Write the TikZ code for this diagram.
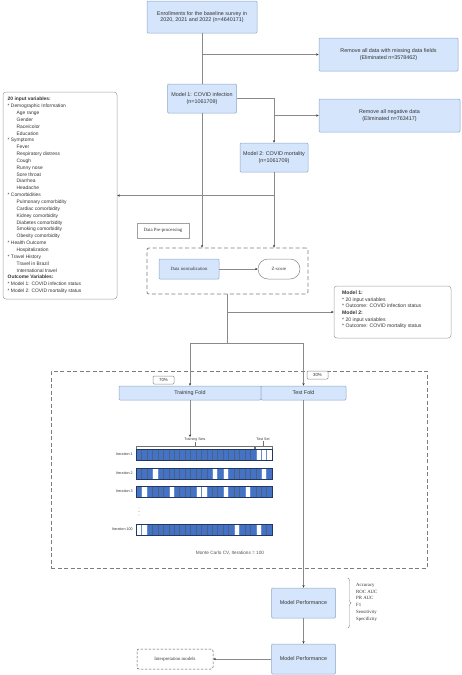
\documentclass[tikz,border=0pt]{standalone}
\usepackage{fontspec}
\setmainfont{Liberation Sans}
\newfontfamily\seriffont{Liberation Serif}
\usetikzlibrary{arrows.meta,decorations.pathreplacing,calc}

\definecolor{boxfill}{HTML}{D5E5FB}
\definecolor{boxdraw}{HTML}{8CA6C8}
\definecolor{linec}{HTML}{8A8A8A}
\definecolor{barblue}{HTML}{4472C4}
\definecolor{bardark}{HTML}{203864}
\definecolor{txt}{HTML}{333333}

\tikzset{
  bluebox/.style={draw=boxdraw, fill=boxfill, rounded corners=1pt, line width=0.5pt, align=center,
    inner sep=0pt, font=\fontsize{5.4}{6.6}\selectfont, text=txt},
  plainbox/.style={draw=linec, fill=white, line width=0.5pt, inner sep=0pt},
  conn/.style={draw=linec, line width=0.6pt},
  arr/.style={conn, -{Stealth[length=2.6pt, width=2.2pt, color=black!80]}},
  dashbox/.style={draw=linec!90!black, line width=0.7pt, dash pattern=on 4pt off 2.5pt, inner sep=0pt},
  smalltxt/.style={font=\fontsize{4.9}{6.85}\selectfont, text=txt},
  sertxt/.style={font=\seriffont\fontsize{4.8}{6}\selectfont, text=txt},
}

\newcommand{\mcrow}[3]{%
  \foreach \i in {0,...,24} {
    \draw[fill=barblue, draw=bardark!80, line width=0.25pt] ({136+\i*5.44},#1) rectangle ++(5.44,11);
  }
  \foreach \i in {#3} {
    \draw[fill=white, draw=barblue!80, line width=0.25pt] ({136+\i*5.44},#1) rectangle ++(5.44,11);
  }
  \draw[bardark, line width=0.5pt] (136,#1) rectangle (272,#1+11);
  \node[anchor=east, inner sep=0pt, font=\fontsize{3.7}{4}\selectfont, text=txt] at (133,#1+5.5) {#2};
}

\begin{document}
\begin{tikzpicture}[x=1pt, y=-1pt]
\useasboundingbox (0,0) rectangle (462,675);

% top flow
\node[bluebox, minimum width=110pt, minimum height=32pt] (enr) at (202,17) {Enrollments for the baseline survey in\\2020, 2021 and 2022 (n=4640171)};
\node[bluebox, minimum width=139pt, minimum height=33pt] (rmmiss) at (388.5,54.5) {Remove all data with missing data fields\\(Eliminated n=3578462)};
\node[bluebox, minimum width=69pt, minimum height=29pt] (m1) at (202,98.5) {Model 1: COVID infection\\(n=1061709)};
\node[bluebox, minimum width=141pt, minimum height=33pt] (rmneg) at (389.5,115.5) {Remove all negative data\\(Eliminated n=763417)};
\node[bluebox, minimum width=68pt, minimum height=29pt] (m2) at (274,157.5) {Model 2: COVID mortality\\(n=1061709)};

% left variables box
\node[draw=linec!80, fill=white, rounded corners=3pt, line width=0.5pt, minimum width=114pt, minimum height=207pt, inner sep=0pt] (leftbox) at (60,195.5) {};
\node[anchor=north west, align=left, inner sep=0pt, smalltxt] (vars) at (7.5,97) {%
\textbf{20 input variables:}\\
* Demographic Information\\
\hspace*{9pt}Age range\\
\hspace*{9pt}Gender\\
\hspace*{9pt}Race/color\\
\hspace*{9pt}Education\\
* Symptoms\\
\hspace*{9pt}Fever\\
\hspace*{9pt}Respiratory distress\\
\hspace*{9pt}Cough\\
\hspace*{9pt}Runny nose\\
\hspace*{9pt}Sore throat\\
\hspace*{9pt}Diarrhea\\
\hspace*{9pt}Headache\\
* Comorbidities\\
\hspace*{9pt}Pulmonary comorbidity\\
\hspace*{9pt}Cardiac comorbidity\\
\hspace*{9pt}Kidney comorbidity\\
\hspace*{9pt}Diabetes comorbidity\\
\hspace*{9pt}Smoking comorbidity\\
\hspace*{9pt}Obesity comorbidity\\
* Health Outcome\\
\hspace*{9pt}Hospitalization\\
* Travel History\\
\hspace*{9pt}Travel in Brazil\\
\hspace*{9pt}International travel\\
\textbf{Outcome Variables:}\\
* Model 1: COVID infection status\\
* Model 2: COVID mortality status};

% preprocessing
\node[plainbox, draw=linec!80, sertxt, minimum width=52pt, minimum height=15pt] (dpp) at (163,230.5) {Data Pre-processing};
\node[dashbox, rounded corners=2pt, minimum width=161pt, minimum height=46pt] (pp) at (227.5,271) {};
\node[bluebox, sertxt, minimum width=60pt, minimum height=20pt] (norm) at (189,269) {Data normalization};
\node[plainbox, sertxt, rounded corners=10pt, minimum width=42pt, minimum height=20pt] (z) at (279,269) {Z-score};

% info box
\node[draw=linec!80, fill=white, rounded corners=3pt, line width=0.5pt, minimum width=117pt, minimum height=52pt, inner sep=0pt] (info) at (392.5,312) {};
\node[anchor=north west, align=left, inner sep=0pt, font=\fontsize{5.1}{6.7}\selectfont, text=txt] (infotxt) at (342,290.5) {%
\textbf{Model 1:}\\
* 20 input variables\\
* Outcome: COVID infection status\\
\textbf{Model 2:}\\
* 20 input variables\\
* Outcome: COVID mortality status};

\coordinate (j) at (227.5,343);

% Monte Carlo block
\node[dashbox, minimum width=376pt, minimum height=197pt] (mc) at (239,469.5) {};
\node[bluebox, minimum width=142pt, minimum height=14pt] (train) at (190,393) {Training Fold};
\node[bluebox, minimum width=85pt, minimum height=14pt] (test) at (303.5,393) {Test Fold};
\node[plainbox, rounded corners=1pt, minimum width=21pt, minimum height=8pt, font=\fontsize{4.4}{5}\selectfont, text=txt] (p70) at (163.5,380) {70\%};
\node[plainbox, rounded corners=1pt, minimum width=21pt, minimum height=8pt, font=\fontsize{4.4}{5}\selectfont, text=txt] (p30) at (317.5,375) {30\%};

\node[inner sep=0.5pt, font=\fontsize{3.6}{4}\selectfont, text=txt] (tsl) at (195,439.5) {Training Sets};
\node[inner sep=0.5pt, font=\fontsize{3.6}{4}\selectfont, text=txt] (tstl) at (263,439.5) {Test Set};
\draw[txt!70, line width=0.3pt] (136,449) -- (136,446.5) -- (254,446.5) -- (254,449);
\draw[txt!70, line width=0.3pt] (195,446.5) -- (tsl.south);
\draw[txt!70, line width=0.3pt] (255.5,449) -- (255.5,446.5) -- (272,446.5) -- (272,449);
\draw[txt!70, line width=0.3pt] (263,446.5) -- (tstl.south);

\mcrow{449}{Iteration 1}{22,23,24}
\mcrow{468}{Iteration 2}{3,14,16,23}
\mcrow{486}{Iteration 3}{1,6,11,12,16,20}
\mcrow{524}{Iteration 100}{0,1,18,22}
\fill[txt!80] (139,508) circle (0.45) (139,511.5) circle (0.45) (139,515) circle (0.45);

\node[inner sep=0pt, font=\fontsize{4.7}{5}\selectfont, text=txt!85] (mclabel) at (230,553) {Monte Carlo CV, Iterations = 100};

% performance
\node[bluebox, minimum width=64pt, minimum height=30pt] (mp1) at (303.5,603) {Model Performance};
\node[bluebox, minimum width=64pt, minimum height=30pt] (mp2) at (303.5,659) {Model Performance};
\node[draw=txt!85, line width=0.5pt, dash pattern=on 2.5pt off 1.5pt, rounded corners=2pt, inner sep=0pt, sertxt, minimum width=76pt, minimum height=20pt] (interp) at (175,659) {Interpretation models};
\draw[linec, line width=0.4pt, decorate, decoration={brace, amplitude=3pt}] (348,578) -- (348,628);
\node[anchor=north west, align=left, inner sep=0pt, font=\seriffont\fontsize{4.8}{6.8}\selectfont, text=txt] (met) at (356,583) {Accuracy\\ROC AUC\\PR AUC\\F1\\Sensitivity\\Specificity};

% connectors
\draw[conn] (enr.south) -- (m1.north);
\draw[arr] (enr.south |- rmmiss.west) -- (rmmiss.west);
\draw[arr] (m1.east) -| (m2.north);
\draw[arr] (m2.north |- rmneg.west) -- (rmneg.west);
\draw[arr] (m1.south) -- (m1.south |- pp.north);
\draw[arr] (m2.south) -- (m2.south |- pp.north);
\draw[arr] (m2.south |- leftbox.east) -- (leftbox.east);
\draw[arr] (norm.east) -- (z.west);
\draw[conn] (pp.south) -- (j);
\draw[arr] (pp.south |- info.west) -- (info.west);
\draw[conn] (j -| train.north) -- (j -| test.north);
\draw[arr] (j -| train.north) -- (train.north);
\draw[arr] (j -| test.north) -- (test.north);
\draw[arr] (train.south) -- (train.south |- tsl.north);
\draw[arr] (test.south) -- (mp1.north);
\draw[arr] (mp1.south) -- (mp2.north);
\draw[arr] (mp2.west) -- (interp.east);
\end{tikzpicture}
\end{document}
